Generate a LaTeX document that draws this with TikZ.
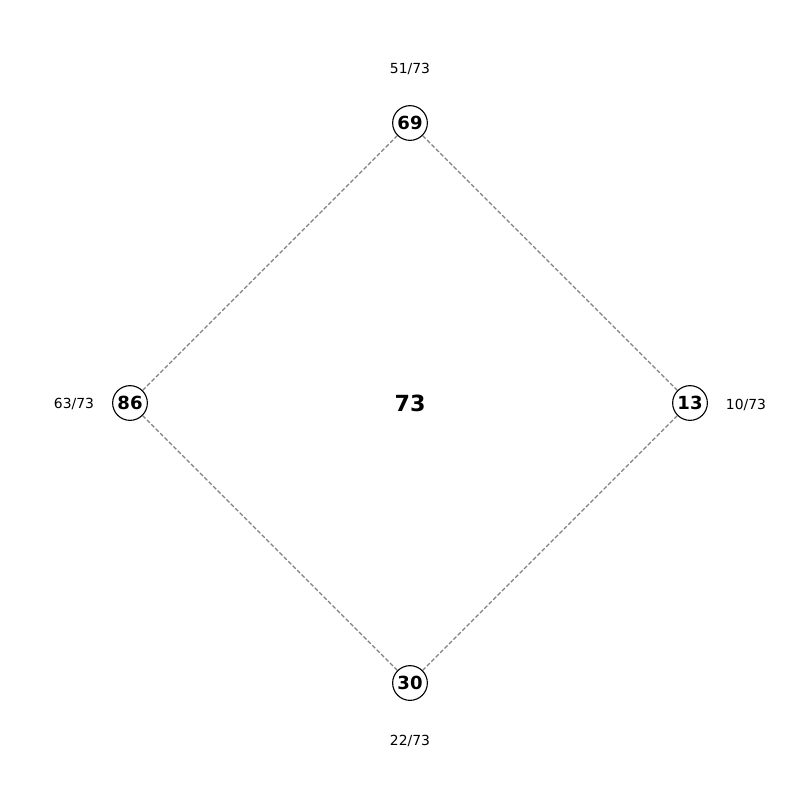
\documentclass[tikz,border=0pt]{standalone}
\usepackage{fontspec}
\setmainfont{DejaVu Sans}
\begin{document}
\begin{tikzpicture}[x=0.72pt,y=-0.72pt,
  vert/.style={circle,draw=black,line width=0.8pt,fill=white,minimum size=25pt,inner sep=0pt,font=\fontsize{13}{15}\selectfont\bfseries},
  lab/.style={font=\fontsize{10}{12}\selectfont},
  edge/.style={draw=black!50,line width=0.8pt,dash pattern=on 3pt off 1.5pt}]
\useasboundingbox (0,0) rectangle (800,800);
\node[vert] (n69) at (410,123) {69};
\node[vert] (n13) at (690,403) {13};
\node[vert] (n30) at (410,683) {30};
\node[vert] (n86) at (130,403) {86};
\node[font=\fontsize{16}{18}\selectfont\bfseries] (c) at (410,403) {73};
\node[lab] (l69) at (410,69) {51/73};
\node[lab] (l13) at (746,405) {10/73};
\node[lab] (l30) at (410,741) {22/73};
\node[lab] (l86) at (74,404) {63/73};
\draw[edge] (n69) -- (n13);
\draw[edge] (n13) -- (n30);
\draw[edge] (n30) -- (n86);
\draw[edge] (n86) -- (n69);
\end{tikzpicture}
\end{document}
